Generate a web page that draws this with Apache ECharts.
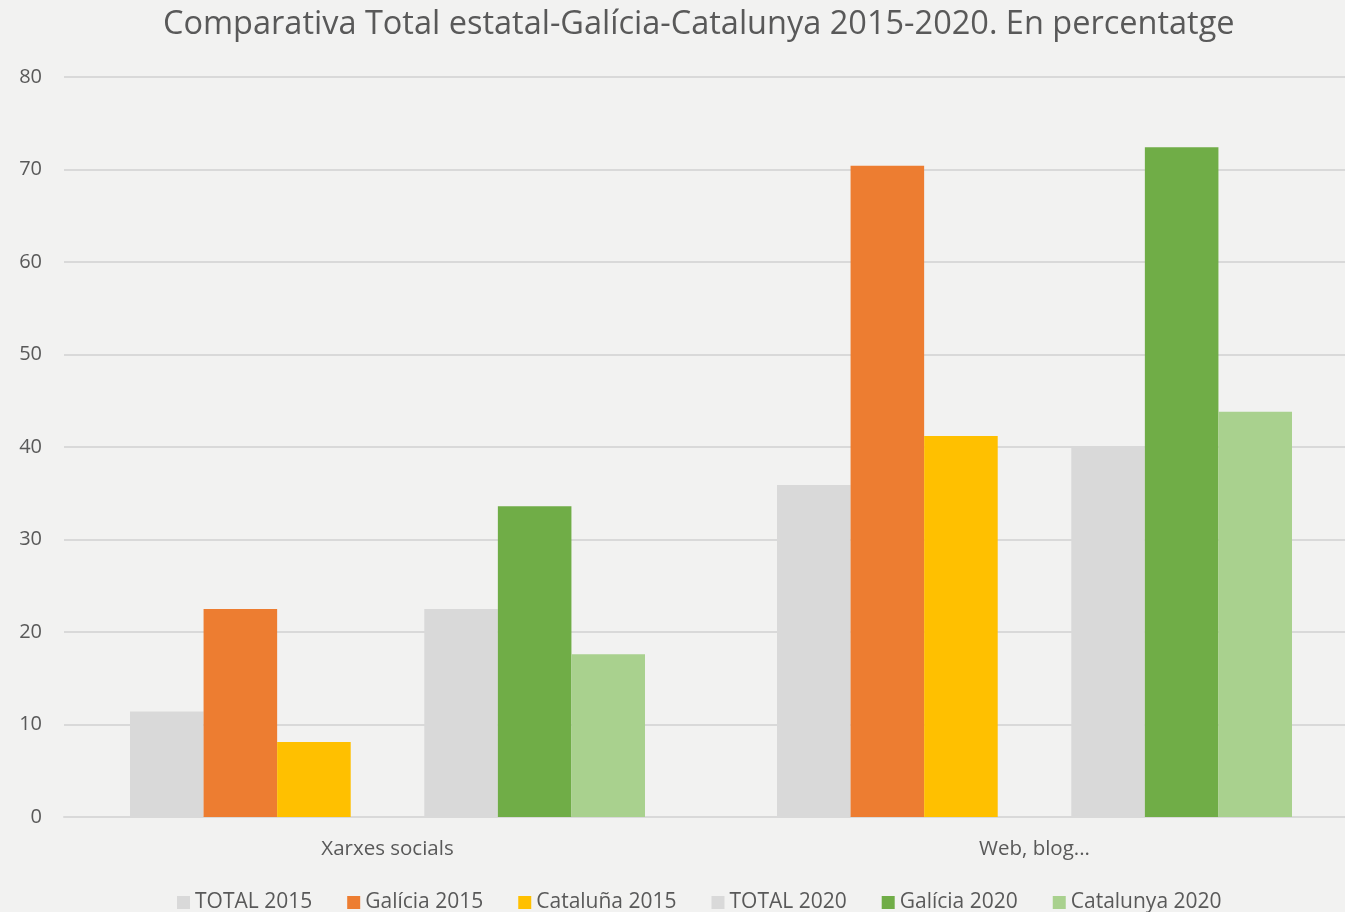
<!DOCTYPE html>
<html>
<head>
<meta charset="utf-8">
<script src="https://cdn.jsdelivr.net/npm/echarts@6/dist/echarts.min.js"></script>
<style>
  html, body { margin: 0; padding: 0; background: #f2f2f1; }
  #chart { width: 1345px; height: 912px; }
</style>
</head>
<body>
<div id="chart"></div>
<script>
// chart data
const categories = ['Xarxes socials', 'Web, blog...'];
const total2015 = [11.4, 35.9];
const galicia2015 = [22.5, 70.4];
const catalunya2015 = [8.1, 41.2];
const total2020 = [22.5, 40.0];
const galicia2020 = [33.6, 72.4];
const catalunya2020 = [17.6, 43.8];
const yTicks = [0, 10, 20, 30, 40, 50, 60, 70, 80];

const textColor = '#595959';
const font = '"Open Sans", "Noto Sans", sans-serif';

const chart = echarts.init(document.getElementById('chart'));

function bar(name, data, color) {
  return {
    name: name,
    type: 'bar',
    data: data,
    itemStyle: { color: color },
    barGap: '0%',
    barCategoryGap: '20.4%',
    silent: true
  };
}

chart.setOption({
  backgroundColor: '#f2f2f1',
  animation: false,
  textStyle: { fontFamily: font },
  title: {
    text: 'Comparativa Total estatal-Galícia-Catalunya 2015-2020. En percentatge',
    left: 158,
    top: 3,
    textStyle: { fontFamily: font, fontSize: 32.5, fontWeight: 'normal', color: textColor }
  },
  legend: {
    bottom: -6,
    left: 172,
    itemWidth: 13,
    itemHeight: 13,
    itemGap: 35,
    icon: 'rect',
    textStyle: { fontFamily: font, fontSize: 21, color: textColor },
    data: ['TOTAL 2015', 'Galícia 2015', 'Cataluña 2015', 'TOTAL 2020', 'Galícia 2020', 'Catalunya 2020']
  },
  grid: { left: 64, right: -13, top: 77, bottom: 95, outerBoundsMode: 'none' },
  xAxis: {
    type: 'category',
    data: categories,
    axisTick: { show: false },
    axisLine: { lineStyle: { color: '#d9d9d9', width: 2 } },
    axisLabel: { fontFamily: font, fontSize: 20.5, color: textColor, margin: 22 }
  },
  yAxis: {
    type: 'value',
    min: yTicks[0],
    max: yTicks[yTicks.length - 1],
    interval: 10,
    axisLine: { show: false },
    axisTick: { show: false },
    splitLine: { lineStyle: { color: '#d9d9d9', width: 2 } },
    axisLabel: { fontFamily: font, fontSize: 20, color: textColor, margin: 22 }
  },
  series: [
    bar('TOTAL 2015', total2015, '#d9d9d9'),
    bar('Galícia 2015', galicia2015, '#ed7d31'),
    bar('Cataluña 2015', catalunya2015, '#ffc000'),
    bar('', [null, null], 'transparent'),
    bar('TOTAL 2020', total2020, '#d9d9d9'),
    bar('Galícia 2020', galicia2020, '#70ad47'),
    bar('Catalunya 2020', catalunya2020, '#a9d18e')
  ]
});
</script>
</body>
</html>
